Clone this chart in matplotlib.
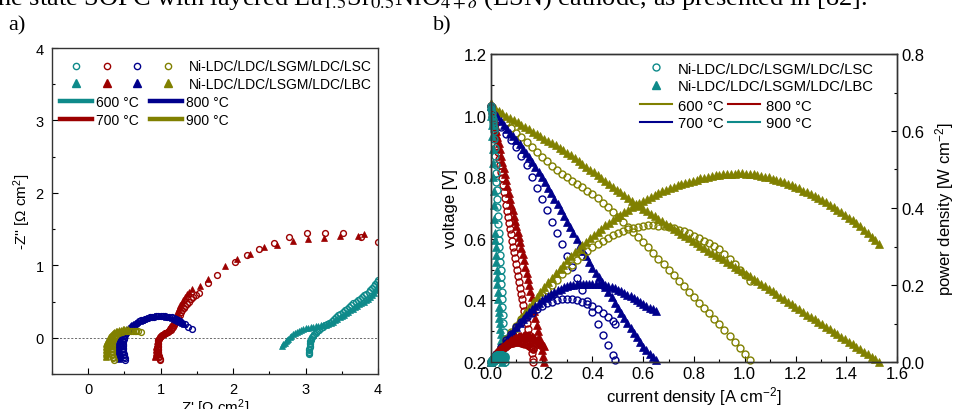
import matplotlib
matplotlib.use('Agg')
import matplotlib.pyplot as plt
from matplotlib.lines import Line2D
from matplotlib.legend_handler import HandlerTuple
from matplotlib.ticker import MultipleLocator

# Fonts: Arial-like for the axes, Times-like for the page text
plt.rcParams['font.family'] = ['Liberation Sans', 'DejaVu Sans']
plt.rcParams['mathtext.fontset'] = 'custom'
plt.rcParams['mathtext.rm'] = 'Liberation Sans'
plt.rcParams['mathtext.it'] = 'Liberation Sans:italic'
plt.rcParams['xtick.direction'] = 'in'
plt.rcParams['ytick.direction'] = 'in'

# ---------------- panel a: impedance spectra (Z', -Z'') ----------------
temps_a = ['600 °C', '700 °C', '800 °C', '900 °C']
cells = ['Ni-LDC/LDC/LSGM/LDC/LSC', 'Ni-LDC/LDC/LSGM/LDC/LBC']

z_re_600_lsc = [3.05, 3.05, 3.05, 3.05, 3.05, 3.055, 3.06, 3.06, 3.06, 3.065, 3.07, 3.08, 3.09,
                3.105, 3.12, 3.14, 3.16, 3.185, 3.21, 3.24, 3.27, 3.30, 3.33, 3.36, 3.39, 3.42,
                3.45, 3.48, 3.51, 3.54, 3.57, 3.60, 3.63, 3.66, 3.69, 3.72, 3.75, 3.78, 3.81,
                3.84, 3.87, 3.895, 3.92, 3.94, 3.96, 3.98, 4.00]
z_im_600_lsc = [-0.23, -0.21, -0.19, -0.17, -0.15, -0.13, -0.11, -0.09, -0.07, -0.05, -0.03,
                -0.01, 0.01, 0.03, 0.05, 0.07, 0.09, 0.11, 0.13, 0.15, 0.17, 0.19, 0.21, 0.235,
                0.26, 0.285, 0.31, 0.335, 0.36, 0.38, 0.40, 0.425, 0.45, 0.475, 0.50, 0.52, 0.54,
                0.565, 0.59, 0.61, 0.63, 0.66, 0.69, 0.715, 0.74, 0.77, 0.80]
z_re_600_lbc = [2.68, 2.695, 2.71, 2.725, 2.74, 2.76, 2.78, 2.805, 2.83, 2.855, 2.88, 2.91, 2.94,
                2.97, 3.00, 3.035, 3.07, 3.105, 3.14, 3.175, 3.21, 3.245, 3.28, 3.315, 3.35, 3.38,
                3.41, 3.44, 3.47, 3.50, 3.53, 3.56, 3.59, 3.62, 3.65, 3.68, 3.71, 3.74, 3.77,
                3.80, 3.83, 3.86, 3.89, 3.915, 3.94, 3.96, 3.98, 4.00]
z_im_600_lbc = [-0.11, -0.09, -0.07, -0.05, -0.03, -0.01, 0.01, 0.03, 0.05, 0.065, 0.08, 0.095,
                0.11, 0.12, 0.13, 0.14, 0.15, 0.155, 0.16, 0.165, 0.17, 0.175, 0.18, 0.19, 0.20,
                0.22, 0.24, 0.26, 0.28, 0.30, 0.32, 0.34, 0.36, 0.38, 0.40, 0.42, 0.44, 0.46,
                0.48, 0.50, 0.52, 0.54, 0.56, 0.59, 0.62, 0.655, 0.69, 0.73]

z_re_700_lsc = [0.99, 0.985, 0.98, 0.975, 0.97, 0.965, 0.96, 0.96, 0.96, 0.96, 0.96, 0.96, 0.96,
                0.965, 0.97, 0.98, 0.99, 1.005, 1.02, 1.04, 1.06, 1.08, 1.10, 1.12, 1.14, 1.155,
                1.17, 1.185, 1.20, 1.215, 1.23, 1.245, 1.26, 1.28, 1.30, 1.32, 1.34, 1.365, 1.39,
                1.42, 1.45, 1.49, 1.53, 1.65, 1.78, 2.03, 2.19, 2.36, 2.56, 2.77, 3.02, 3.27,
                3.52, 3.76, 4.00]
z_im_700_lsc = [-0.31, -0.29, -0.27, -0.25, -0.23, -0.21, -0.19, -0.17, -0.15, -0.13, -0.11,
                -0.09, -0.07, -0.05, -0.03, -0.01, 0.01, 0.025, 0.04, 0.05, 0.06, 0.07, 0.08,
                0.095, 0.11, 0.13, 0.15, 0.175, 0.20, 0.23, 0.26, 0.29, 0.32, 0.35, 0.38, 0.41,
                0.44, 0.47, 0.50, 0.53, 0.56, 0.59, 0.62, 0.75, 0.86, 1.04, 1.14, 1.23, 1.31,
                1.39, 1.44, 1.44, 1.44, 1.39, 1.32]
z_re_700_lbc = [0.92, 0.925, 0.93, 0.93, 0.93, 0.93, 0.93, 0.935, 0.94, 0.945, 0.95, 0.955, 0.96,
                0.97, 0.98, 0.995, 1.01, 1.03, 1.05, 1.07, 1.09, 1.105, 1.12, 1.135, 1.15, 1.165,
                1.18, 1.195, 1.21, 1.225, 1.24, 1.255, 1.27, 1.29, 1.31, 1.335, 1.36, 1.395, 1.43,
                1.54, 1.66, 1.89, 2.05, 2.23, 2.42, 2.60, 2.83, 3.04, 3.25, 3.48, 3.73, 3.80]
z_im_700_lbc = [-0.27, -0.25, -0.23, -0.21, -0.19, -0.17, -0.15, -0.13, -0.11, -0.09, -0.07,
                -0.05, -0.03, -0.01, 0.01, 0.025, 0.04, 0.055, 0.07, 0.085, 0.10, 0.12, 0.14,
                0.165, 0.19, 0.22, 0.25, 0.28, 0.31, 0.345, 0.38, 0.415, 0.45, 0.485, 0.52, 0.56,
                0.60, 0.635, 0.67, 0.72, 0.81, 0.99, 1.09, 1.16, 1.25, 1.28, 1.33, 1.37, 1.38,
                1.40, 1.41, 1.43]

z_re_800_lsc = [0.51, 0.505, 0.50, 0.495, 0.49, 0.485, 0.48, 0.48, 0.48, 0.48, 0.48, 0.48, 0.48,
                0.485, 0.49, 0.495, 0.50, 0.51, 0.52, 0.535, 0.55, 0.57, 0.59, 0.61, 0.63, 0.655,
                0.68, 0.705, 0.73, 0.76, 0.79, 0.82, 0.85, 0.88, 0.91, 0.94, 0.97, 1.00, 1.03,
                1.06, 1.09, 1.12, 1.15, 1.18, 1.21, 1.24, 1.27, 1.30, 1.33, 1.38, 1.43]
z_im_800_lsc = [-0.30, -0.28, -0.26, -0.24, -0.22, -0.20, -0.18, -0.16, -0.14, -0.12, -0.10,
                -0.08, -0.06, -0.04, -0.02, 0.00, 0.02, 0.04, 0.06, 0.08, 0.10, 0.12, 0.14, 0.16,
                0.18, 0.195, 0.21, 0.225, 0.24, 0.25, 0.26, 0.27, 0.28, 0.285, 0.29, 0.295, 0.30,
                0.30, 0.30, 0.295, 0.29, 0.285, 0.28, 0.27, 0.26, 0.245, 0.23, 0.21, 0.19, 0.15,
                0.12]
z_re_800_lbc = [0.42, 0.42, 0.42, 0.415, 0.41, 0.41, 0.41, 0.41, 0.41, 0.41, 0.41, 0.415, 0.42,
                0.425, 0.43, 0.44, 0.45, 0.465, 0.48, 0.50, 0.52, 0.545, 0.57, 0.595, 0.62, 0.65,
                0.68, 0.71, 0.74, 0.77, 0.80, 0.835, 0.87, 0.905, 0.94, 0.975, 1.01, 1.045, 1.08,
                1.115, 1.15, 1.18, 1.21, 1.24, 1.27, 1.295, 1.32]
z_im_800_lbc = [-0.29, -0.27, -0.25, -0.23, -0.21, -0.19, -0.17, -0.15, -0.13, -0.11, -0.09,
                -0.07, -0.05, -0.03, -0.01, 0.01, 0.03, 0.05, 0.07, 0.09, 0.11, 0.13, 0.15, 0.17,
                0.19, 0.205, 0.22, 0.235, 0.25, 0.26, 0.27, 0.28, 0.29, 0.295, 0.30, 0.30, 0.30,
                0.295, 0.29, 0.28, 0.27, 0.26, 0.25, 0.235, 0.22, 0.205, 0.19]

z_re_900_lsc = [0.35, 0.345, 0.34, 0.335, 0.33, 0.33, 0.33, 0.33, 0.33, 0.33, 0.33, 0.33, 0.33,
                0.335, 0.34, 0.345, 0.35, 0.36, 0.37, 0.385, 0.40, 0.42, 0.44, 0.465, 0.49, 0.515,
                0.54, 0.565, 0.59, 0.615, 0.64, 0.665, 0.69, 0.73]
z_im_900_lsc = [-0.30, -0.28, -0.26, -0.24, -0.22, -0.20, -0.18, -0.16, -0.14, -0.12, -0.10,
                -0.08, -0.06, -0.045, -0.03, -0.015, 0.00, 0.015, 0.03, 0.045, 0.06, 0.07, 0.08,
                0.085, 0.09, 0.095, 0.10, 0.10, 0.10, 0.10, 0.10, 0.095, 0.09, 0.08]
z_re_900_lbc = [0.25, 0.25, 0.25, 0.245, 0.24, 0.24, 0.24, 0.24, 0.24, 0.245, 0.25, 0.255, 0.26,
                0.27, 0.28, 0.29, 0.30, 0.315, 0.33, 0.345, 0.36, 0.38, 0.40, 0.425, 0.45, 0.475,
                0.50, 0.525, 0.55]
z_im_900_lbc = [-0.27, -0.25, -0.23, -0.21, -0.19, -0.17, -0.15, -0.13, -0.11, -0.09, -0.07,
                -0.055, -0.04, -0.025, -0.01, 0.005, 0.02, 0.035, 0.05, 0.065, 0.08, 0.09, 0.10,
                0.105, 0.11, 0.115, 0.12, 0.12, 0.12]

# ---------------- panel b: voltage and power density vs current ----------------
temps_b = ['600 °C', '700 °C', '800 °C', '900 °C']

j_600_lsc = [0.00, 0.02, 0.04, 0.06, 0.08, 0.10, 0.12, 0.14, 0.16, 0.18, 0.20, 0.22, 0.24,
             0.26, 0.28, 0.30, 0.32, 0.34, 0.36, 0.38, 0.40, 0.42, 0.44, 0.46, 0.48, 0.50,
             0.52, 0.54, 0.56, 0.58, 0.60, 0.62, 0.64, 0.66, 0.68, 0.70, 0.72, 0.74, 0.76,
             0.78, 0.80, 0.82, 0.84, 0.86, 0.88, 0.90, 0.92, 0.94, 0.96, 0.98, 1.00, 1.02]
v_600_lsc = [1.030, 1.013, 0.996, 0.978, 0.961, 0.945, 0.929, 0.913, 0.897, 0.881, 0.866,
             0.851, 0.837, 0.824, 0.812, 0.800, 0.789, 0.778, 0.767, 0.756, 0.744, 0.731,
             0.717, 0.702, 0.687, 0.670, 0.654, 0.638, 0.622, 0.606, 0.590, 0.572, 0.554,
             0.536, 0.518, 0.500, 0.482, 0.464, 0.446, 0.428, 0.410, 0.392, 0.375, 0.358,
             0.341, 0.325, 0.305, 0.285, 0.265, 0.245, 0.225, 0.205]
p_600_lsc = [0.0000, 0.0203, 0.0398, 0.0587, 0.0769, 0.0945, 0.1115, 0.1278, 0.1435, 0.1586,
             0.1732, 0.1872, 0.2009, 0.2142, 0.2274, 0.2400, 0.2525, 0.2645, 0.2761, 0.2873,
             0.2976, 0.3070, 0.3155, 0.3229, 0.3298, 0.3350, 0.3401, 0.3445, 0.3483, 0.3515,
             0.3540, 0.3546, 0.3546, 0.3538, 0.3522, 0.3500, 0.3470, 0.3434, 0.3390, 0.3338,
             0.3280, 0.3214, 0.3150, 0.3079, 0.3001, 0.2925, 0.2806, 0.2679, 0.2544, 0.2401,
             0.2250, 0.2091]

j_600_lbc = [0.000, 0.015, 0.030, 0.045, 0.060, 0.075, 0.090, 0.105, 0.120, 0.135, 0.150,
             0.165, 0.180, 0.195, 0.210, 0.225, 0.240, 0.255, 0.270, 0.285, 0.300, 0.315,
             0.330, 0.345, 0.360, 0.375, 0.390, 0.405, 0.420, 0.435, 0.450, 0.465, 0.480,
             0.495, 0.510, 0.525, 0.540, 0.555, 0.570, 0.585, 0.600, 0.615, 0.630, 0.645,
             0.660, 0.675, 0.690, 0.705, 0.720, 0.735, 0.750, 0.765, 0.780, 0.795, 0.810,
             0.825, 0.840, 0.855, 0.870, 0.885, 0.900, 0.915, 0.930, 0.945, 0.960, 0.975,
             0.990, 1.005, 1.020, 1.035, 1.050, 1.065, 1.080, 1.095, 1.110, 1.125, 1.140,
             1.155, 1.170, 1.185, 1.200, 1.215, 1.230, 1.245, 1.260, 1.275, 1.290, 1.305,
             1.320, 1.335, 1.350, 1.365, 1.380, 1.395, 1.410, 1.425, 1.440, 1.455, 1.470,
             1.485, 1.500, 1.515, 1.530]
v_600_lbc = [1.040, 1.026, 1.015, 1.008, 1.000, 0.993, 0.985, 0.978, 0.970, 0.963, 0.955,
             0.948, 0.940, 0.933, 0.925, 0.918, 0.910, 0.903, 0.895, 0.888, 0.880, 0.871,
             0.862, 0.853, 0.843, 0.834, 0.825, 0.816, 0.806, 0.797, 0.788, 0.779, 0.769,
             0.760, 0.751, 0.742, 0.732, 0.723, 0.714, 0.706, 0.698, 0.690, 0.681, 0.673,
             0.665, 0.657, 0.649, 0.641, 0.633, 0.625, 0.617, 0.609, 0.601, 0.593, 0.585,
             0.578, 0.570, 0.562, 0.555, 0.548, 0.540, 0.533, 0.525, 0.518, 0.510, 0.503,
             0.495, 0.487, 0.479, 0.471, 0.462, 0.454, 0.446, 0.438, 0.429, 0.421, 0.412,
             0.404, 0.396, 0.388, 0.379, 0.371, 0.362, 0.354, 0.346, 0.338, 0.330, 0.322,
             0.314, 0.306, 0.298, 0.290, 0.282, 0.274, 0.266, 0.258, 0.250, 0.242, 0.234,
             0.226, 0.217, 0.209, 0.200]
p_600_lbc = [0.0000, 0.0154, 0.0305, 0.0454, 0.0600, 0.0745, 0.0887, 0.1027, 0.1164, 0.1300,
             0.1433, 0.1564, 0.1692, 0.1819, 0.1943, 0.2066, 0.2184, 0.2303, 0.2417, 0.2531,
             0.2640, 0.2744, 0.2845, 0.2943, 0.3035, 0.3128, 0.3218, 0.3305, 0.3385, 0.3467,
             0.3546, 0.3622, 0.3691, 0.3762, 0.3830, 0.3896, 0.3953, 0.4013, 0.4070, 0.4130,
             0.4188, 0.4244, 0.4290, 0.4341, 0.4389, 0.4435, 0.4478, 0.4519, 0.4558, 0.4594,
             0.4628, 0.4659, 0.4688, 0.4714, 0.4739, 0.4769, 0.4788, 0.4805, 0.4829, 0.4850,
             0.4860, 0.4877, 0.4883, 0.4895, 0.4896, 0.4904, 0.4901, 0.4894, 0.4886, 0.4875,
             0.4851, 0.4835, 0.4817, 0.4796, 0.4762, 0.4736, 0.4697, 0.4666, 0.4633, 0.4598,
             0.4548, 0.4508, 0.4453, 0.4407, 0.4360, 0.4310, 0.4257, 0.4202, 0.4145, 0.4085,
             0.4023, 0.3959, 0.3892, 0.3822, 0.3751, 0.3677, 0.3600, 0.3521, 0.3440, 0.3356,
             0.3255, 0.3166, 0.3060]

j_700_lsc = [0.00, 0.02, 0.04, 0.06, 0.08, 0.10, 0.12, 0.14, 0.16, 0.18, 0.20, 0.22, 0.24,
             0.26, 0.28, 0.30, 0.32, 0.34, 0.36, 0.38, 0.40, 0.42, 0.44, 0.46, 0.48, 0.49]
v_700_lsc = [1.030, 0.990, 0.962, 0.940, 0.920, 0.897, 0.870, 0.838, 0.802, 0.765, 0.728,
             0.692, 0.655, 0.618, 0.582, 0.545, 0.508, 0.472, 0.435, 0.398, 0.362, 0.325,
             0.288, 0.255, 0.222, 0.205]
p_700_lsc = [0.000, 0.020, 0.038, 0.056, 0.074, 0.090, 0.104, 0.117, 0.128, 0.138, 0.146,
             0.152, 0.157, 0.161, 0.163, 0.164, 0.163, 0.160, 0.157, 0.151, 0.145, 0.137,
             0.127, 0.117, 0.107, 0.100]

j_700_lbc = [0.0000, 0.0125, 0.0250, 0.0375, 0.0500, 0.0625, 0.0750, 0.0875, 0.1000, 0.1125,
             0.1250, 0.1375, 0.1500, 0.1625, 0.1750, 0.1875, 0.2000, 0.2125, 0.2250, 0.2375,
             0.2500, 0.2625, 0.2750, 0.2875, 0.3000, 0.3125, 0.3250, 0.3375, 0.3500, 0.3625,
             0.3750, 0.3875, 0.4000, 0.4125, 0.4250, 0.4375, 0.4500, 0.4625, 0.4750, 0.4875,
             0.5000, 0.5125, 0.5250, 0.5375, 0.5500, 0.5625, 0.5750, 0.5875, 0.6000, 0.6125,
             0.6250, 0.6375, 0.6500]
v_700_lbc = [1.030, 1.013, 0.998, 0.984, 0.970, 0.957, 0.945, 0.933, 0.920, 0.907, 0.893,
             0.879, 0.865, 0.849, 0.833, 0.817, 0.800, 0.783, 0.765, 0.748, 0.730, 0.712,
             0.693, 0.674, 0.655, 0.637, 0.618, 0.599, 0.580, 0.562, 0.543, 0.524, 0.505,
             0.490, 0.475, 0.460, 0.445, 0.428, 0.410, 0.393, 0.375, 0.359, 0.342, 0.326,
             0.310, 0.295, 0.280, 0.265, 0.250, 0.238, 0.225, 0.215, 0.205]
p_700_lbc = [0.0000, 0.0127, 0.0250, 0.0369, 0.0485, 0.0598, 0.0709, 0.0816, 0.0920, 0.1020,
             0.1116, 0.1209, 0.1298, 0.1380, 0.1458, 0.1532, 0.1600, 0.1664, 0.1721, 0.1777,
             0.1825, 0.1869, 0.1906, 0.1938, 0.1965, 0.1991, 0.2009, 0.2022, 0.2030, 0.2037,
             0.2036, 0.2031, 0.2020, 0.2021, 0.2019, 0.2013, 0.2003, 0.1980, 0.1948, 0.1916,
             0.1875, 0.1840, 0.1796, 0.1752, 0.1705, 0.1659, 0.1610, 0.1557, 0.1500, 0.1458,
             0.1406, 0.1371, 0.1333]

j_800_lsc = [0.000, 0.004, 0.008, 0.012, 0.016, 0.020, 0.024, 0.028, 0.032, 0.036, 0.040,
             0.044, 0.048, 0.052, 0.056, 0.060, 0.064, 0.068, 0.072, 0.076, 0.080, 0.084,
             0.088, 0.092, 0.096, 0.100, 0.104, 0.108, 0.112, 0.116, 0.120, 0.124, 0.128,
             0.132, 0.136, 0.140, 0.144, 0.148, 0.152, 0.156, 0.160, 0.164, 0.166]
v_800_lsc = [1.030, 1.009, 0.987, 0.966, 0.945, 0.924, 0.902, 0.881, 0.859, 0.838, 0.817,
             0.796, 0.774, 0.753, 0.732, 0.711, 0.691, 0.671, 0.652, 0.633, 0.614, 0.594,
             0.575, 0.556, 0.537, 0.518, 0.498, 0.479, 0.460, 0.441, 0.422, 0.403, 0.384,
             0.364, 0.345, 0.326, 0.306, 0.287, 0.268, 0.248, 0.229, 0.210, 0.200]
p_800_lsc = [0.0000, 0.0040, 0.0079, 0.0116, 0.0151, 0.0185, 0.0216, 0.0247, 0.0275, 0.0302,
             0.0327, 0.0350, 0.0372, 0.0392, 0.0410, 0.0427, 0.0442, 0.0456, 0.0469, 0.0481,
             0.0491, 0.0499, 0.0506, 0.0512, 0.0516, 0.0518, 0.0518, 0.0517, 0.0515, 0.0512,
             0.0506, 0.0500, 0.0492, 0.0480, 0.0469, 0.0456, 0.0441, 0.0425, 0.0407, 0.0387,
             0.0366, 0.0344, 0.0332]

j_800_lbc = [0.000, 0.005, 0.010, 0.015, 0.020, 0.025, 0.030, 0.035, 0.040, 0.045, 0.050,
             0.055, 0.060, 0.065, 0.070, 0.075, 0.080, 0.085, 0.090, 0.095, 0.100, 0.105,
             0.110, 0.115, 0.120, 0.125, 0.130, 0.135, 0.140, 0.145, 0.150, 0.155, 0.160,
             0.165, 0.170, 0.175, 0.180, 0.185, 0.190, 0.195, 0.200, 0.205, 0.210]
v_800_lbc = [1.030, 1.010, 0.990, 0.970, 0.950, 0.930, 0.910, 0.890, 0.870, 0.850, 0.830,
             0.810, 0.790, 0.770, 0.750, 0.730, 0.710, 0.693, 0.675, 0.658, 0.640, 0.623,
             0.605, 0.588, 0.570, 0.550, 0.530, 0.510, 0.490, 0.470, 0.450, 0.430, 0.410,
             0.388, 0.366, 0.343, 0.321, 0.300, 0.280, 0.260, 0.240, 0.220, 0.200]
p_800_lbc = [0.0000, 0.0051, 0.0099, 0.0146, 0.0190, 0.0233, 0.0273, 0.0312, 0.0348, 0.0383,
             0.0415, 0.0446, 0.0474, 0.0501, 0.0525, 0.0548, 0.0568, 0.0589, 0.0608, 0.0625,
             0.0640, 0.0654, 0.0666, 0.0676, 0.0684, 0.0688, 0.0689, 0.0689, 0.0686, 0.0682,
             0.0675, 0.0667, 0.0656, 0.0640, 0.0622, 0.0600, 0.0578, 0.0555, 0.0532, 0.0507,
             0.0480, 0.0451, 0.0420]

j_900_lsc = [0.0000, 0.0015, 0.0030, 0.0045, 0.0060, 0.0075, 0.0090, 0.0105, 0.0120, 0.0135,
             0.0150, 0.0165, 0.0180, 0.0195, 0.0210, 0.0225, 0.0240, 0.0255, 0.0270, 0.0285,
             0.0300, 0.0315, 0.0330, 0.0345, 0.0360, 0.0375, 0.0390, 0.0405, 0.0420, 0.0435,
             0.0450, 0.0465, 0.0480, 0.0495, 0.0510, 0.0525, 0.0540, 0.0550]
v_900_lsc = [1.030, 1.020, 1.010, 1.000, 0.990, 0.980, 0.970, 0.960, 0.950, 0.923, 0.895,
             0.868, 0.840, 0.813, 0.785, 0.758, 0.730, 0.703, 0.675, 0.648, 0.620, 0.596,
             0.572, 0.548, 0.524, 0.500, 0.476, 0.452, 0.428, 0.404, 0.380, 0.353, 0.326,
             0.299, 0.272, 0.245, 0.218, 0.200]
p_900_lsc = [0.0000, 0.0015, 0.0030, 0.0045, 0.0059, 0.0074, 0.0087, 0.0101, 0.0114, 0.0125,
             0.0134, 0.0143, 0.0151, 0.0159, 0.0165, 0.0171, 0.0175, 0.0179, 0.0182, 0.0185,
             0.0186, 0.0188, 0.0189, 0.0189, 0.0189, 0.0188, 0.0186, 0.0183, 0.0180, 0.0176,
             0.0171, 0.0164, 0.0157, 0.0148, 0.0139, 0.0129, 0.0118, 0.0110]

j_900_lbc = [0.0000, 0.0015, 0.0030, 0.0045, 0.0060, 0.0075, 0.0090, 0.0105, 0.0120, 0.0135,
             0.0150, 0.0165, 0.0180, 0.0195, 0.0210, 0.0225, 0.0240, 0.0255, 0.0270, 0.0285,
             0.0300, 0.0315, 0.0330, 0.0345, 0.0360, 0.0375, 0.0390, 0.0405, 0.0420, 0.0435,
             0.0450]
v_900_lbc = [1.030, 1.000, 0.970, 0.935, 0.890, 0.845, 0.800, 0.755, 0.710, 0.665, 0.620,
             0.596, 0.572, 0.548, 0.524, 0.500, 0.476, 0.452, 0.428, 0.404, 0.380, 0.362,
             0.344, 0.326, 0.308, 0.290, 0.272, 0.254, 0.236, 0.218, 0.200]
p_900_lbc = [0.0000, 0.0015, 0.0029, 0.0042, 0.0053, 0.0063, 0.0072, 0.0079, 0.0085, 0.0090,
             0.0093, 0.0098, 0.0103, 0.0107, 0.0110, 0.0113, 0.0114, 0.0115, 0.0116, 0.0115,
             0.0114, 0.0114, 0.0114, 0.0112, 0.0111, 0.0109, 0.0106, 0.0103, 0.0099, 0.0095,
             0.0090]

# colours
teal = '#0E8A8A'
red = '#9C0000'
blue = '#00008C'
olive = '#808000'
colors_a = [teal, red, blue, olive]
colors_b = [olive, blue, red, teal]

fig = plt.figure(figsize=(9.62, 4.10), dpi=100)

# page text around the figure (the caption line above is cut by the crop)
fig.text(-0.010, 1 - 5 / 410,
         'the state SOFC with layered La$_{1.5}$Sr$_{0.5}$NiO$_{4+\\delta}$ (LSN) cathode, '
         'as presented in [82].',
         family=['Liberation Serif', 'DejaVu Serif'], math_fontfamily='stix',
         fontsize=19, va='baseline', ha='left')
fig.text(8 / 962, 1 - 30 / 410, 'a)', family=['Liberation Serif'], fontsize=16, va='baseline')
fig.text(433 / 962, 1 - 30 / 410, 'b)', family=['Liberation Serif'], fontsize=16, va='baseline')

# ---------------- panel a ----------------
ax_a = fig.add_axes([52 / 962, 1 - 375 / 410, 326 / 962, 326 / 410])
ax_a.axhline(0, color='#555555', lw=0.6, ls=(0, (2.5, 2)), zorder=0)

series_a = [
    (z_re_600_lsc, z_im_600_lsc, z_re_600_lbc, z_im_600_lbc),
    (z_re_700_lsc, z_im_700_lsc, z_re_700_lbc, z_im_700_lbc),
    (z_re_800_lsc, z_im_800_lsc, z_re_800_lbc, z_im_800_lbc),
    (z_re_900_lsc, z_im_900_lsc, z_re_900_lbc, z_im_900_lbc),
]
for (xc, yc, xt, yt), c in zip(series_a, colors_a):
    ax_a.plot(xt, yt, ls='none', marker='^', color=c, ms=5, mew=0.5)
    ax_a.plot(xc, yc, ls='none', marker='o', mfc='none', mec=c, mew=1.0, ms=4.2)

ax_a.set_xlim(-0.5, 4)
ax_a.set_ylim(-0.5, 4)
ax_a.xaxis.set_major_locator(MultipleLocator(1))
ax_a.xaxis.set_minor_locator(MultipleLocator(0.5))
ax_a.yaxis.set_major_locator(MultipleLocator(1))
ax_a.yaxis.set_minor_locator(MultipleLocator(0.5))
ax_a.tick_params(which='major', length=4, width=0.8, labelsize=10.5, pad=6)
ax_a.tick_params(which='minor', length=2.5, width=0.8)
for s in ax_a.spines.values():
    s.set_linewidth(1.0)
    s.set_color('#333333')
ax_a.set_xlabel("Z' [\u03a9 cm$^2$]", fontsize=11, labelpad=0)
ax_a.set_ylabel("-Z'' [\u03a9 cm$^2$]", fontsize=11, labelpad=2)

circ_a = tuple(Line2D([], [], ls='none', marker='o', mfc='none', mec=c, mew=1.0, ms=4.5)
               for c in colors_a)
tri_a = tuple(Line2D([], [], ls='none', marker='^', color=c, ms=5.5) for c in colors_a)
leg_a1 = ax_a.legend([circ_a, tri_a], cells, handler_map={tuple: HandlerTuple(ndivide=None, pad=0)},
                     loc='upper left', bbox_to_anchor=(0.025, 0.965), frameon=False, fontsize=10,
                     handlelength=8.9, handletextpad=0.35, borderpad=0, borderaxespad=0,
                     labelspacing=0.25)
ax_a.add_artist(leg_a1)
lines_a = [Line2D([], [], color=c, lw=3.2) for c in colors_a]
ax_a.legend(lines_a, temps_a, ncol=2, loc='upper left', bbox_to_anchor=(0.025, 0.855),
            frameon=False, fontsize=10, handlelength=2.3, handletextpad=0.3,
            columnspacing=0.8, borderpad=0, borderaxespad=0, labelspacing=0.25)

# ---------------- panel b ----------------
ax_b = fig.add_axes([491 / 962, 1 - 363 / 410, 406 / 962, 308 / 410])
ax_p = ax_b.twinx()

series_b = [
    (j_600_lsc, v_600_lsc, p_600_lsc, j_600_lbc, v_600_lbc, p_600_lbc),
    (j_700_lsc, v_700_lsc, p_700_lsc, j_700_lbc, v_700_lbc, p_700_lbc),
    (j_800_lsc, v_800_lsc, p_800_lsc, j_800_lbc, v_800_lbc, p_800_lbc),
    (j_900_lsc, v_900_lsc, p_900_lsc, j_900_lbc, v_900_lbc, p_900_lbc),
]
for (jc, vc, pc, jt, vt, pt), c in zip(series_b, colors_b):
    ax_b.plot(jt, vt, ls='none', marker='^', color=c, ms=6, mew=0.5, clip_on=False)
    ax_b.plot(jc, vc, ls='none', marker='o', mfc='none', mec=c, mew=1.0, ms=5, clip_on=False)
    ax_p.plot(jt, pt, ls='none', marker='^', color=c, ms=6, mew=0.5, clip_on=False)
    ax_p.plot(jc, pc, ls='none', marker='o', mfc='none', mec=c, mew=1.0, ms=5, clip_on=False)

ax_b.set_xlim(0, 1.6)
ax_b.set_ylim(0.2, 1.2)
ax_p.set_ylim(0, 0.8)
ax_b.xaxis.set_major_locator(MultipleLocator(0.2))
ax_b.xaxis.set_minor_locator(MultipleLocator(0.1))
ax_b.yaxis.set_major_locator(MultipleLocator(0.2))
ax_b.yaxis.set_minor_locator(MultipleLocator(0.1))
ax_p.yaxis.set_major_locator(MultipleLocator(0.2))
ax_p.yaxis.set_minor_locator(MultipleLocator(0.1))
ax_b.xaxis.set_major_formatter(plt.FormatStrFormatter('%.1f'))
ax_b.yaxis.set_major_formatter(plt.FormatStrFormatter('%.1f'))
ax_p.yaxis.set_major_formatter(plt.FormatStrFormatter('%.1f'))
for a in (ax_b, ax_p):
    a.tick_params(which='major', length=4, width=0.8, labelsize=12, pad=3)
    a.tick_params(which='minor', length=2.5, width=0.8)
    for s in a.spines.values():
        s.set_linewidth(1.0)
        s.set_color('#333333')
ax_b.set_xlabel('current density [A cm$^{-2}$]', fontsize=12, labelpad=2)
ax_b.set_ylabel('voltage [V]', fontsize=12, labelpad=4)
ax_p.set_ylabel('power density [W cm$^{-2}$]', fontsize=12, labelpad=6)

mk_b = [Line2D([], [], ls='none', marker='o', mfc='none', mec=teal, mew=1.0, ms=5),
        Line2D([], [], ls='none', marker='^', color=teal, ms=6)]
leg_b1 = ax_p.legend(mk_b, cells, loc='upper left', bbox_to_anchor=(0.367, 0.975), frameon=False,
                     fontsize=10.7, handlelength=2.15, handletextpad=0.4, borderpad=0,
                     borderaxespad=0, labelspacing=0.25)
ax_p.add_artist(leg_b1)
lines_b = [Line2D([], [], color=c, lw=1.5) for c in colors_b]
ax_p.legend(lines_b, temps_b, ncol=2, loc='upper left', bbox_to_anchor=(0.367, 0.855),
            frameon=False, fontsize=10.7, handlelength=2.15, handletextpad=0.4,
            columnspacing=0.3, borderpad=0, borderaxespad=0, labelspacing=0.25)

fig.savefig('out.png', dpi=100)
